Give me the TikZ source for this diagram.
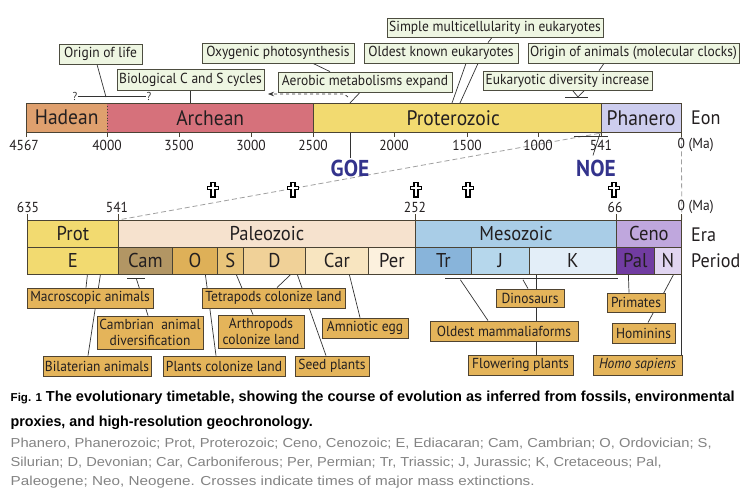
\documentclass[tikz,border=0pt]{standalone}
\usepackage{fontspec}
\usepackage{graphicx}
\setmainfont{PT Sans}[FakeStretch=0.93]
\newfontfamily\capfont{Liberation Sans}
\usetikzlibrary{arrows.meta,calc}
\pgfdeclarelayer{bg}
\pgfsetlayers{bg,main}
\definecolor{txt}{HTML}{231F20}
\definecolor{gfill}{HTML}{EEF6E2}
\definecolor{gline}{HTML}{4D4D40}
\definecolor{ofill}{HTML}{E4B45A}
\definecolor{oline}{HTML}{4F4331}
\definecolor{barline}{HTML}{4A4334}
\definecolor{lineC}{HTML}{333333}
\definecolor{hadc}{HTML}{DFA06E}
\definecolor{arcc}{HTML}{D6717B}
\definecolor{proc}{HTML}{F2DA70}
\definecolor{phac}{HTML}{CDCDEE}
\definecolor{palzc}{HTML}{F6E2CE}
\definecolor{camc}{HTML}{B29664}
\definecolor{ordc}{HTML}{DEB058}
\definecolor{silc}{HTML}{E8C47A}
\definecolor{devc}{HTML}{F0D198}
\definecolor{carc}{HTML}{F8E5C0}
\definecolor{perc}{HTML}{FCF1DE}
\definecolor{mesc}{HTML}{A9CDE7}
\definecolor{trc}{HTML}{88B4DA}
\definecolor{jurc}{HTML}{B6D7EC}
\definecolor{krc}{HTML}{E3EEF8}
\definecolor{cenc}{HTML}{BFA7DD}
\definecolor{palc}{HTML}{713CA1}
\definecolor{neoc}{HTML}{E1D5F1}
\definecolor{evc}{HTML}{33338C}
\definecolor{capgray}{HTML}{838383}
\definecolor{dashgray}{HTML}{A0A0A0}
\tikzset{
  gbox/.style={draw=gline, fill=gfill, line width=0.8pt, inner sep=0.5pt, text=txt, font=\fontsize{14.5}{16}\selectfont},
  obox/.style={draw=oline, fill=ofill, line width=0.8pt, inner sep=0.5pt, text=txt, align=center, font=\fontsize{14.5}{16}\selectfont},
  eonbar/.style={inner sep=0pt, text=txt, font=\fontsize{21}{22}\selectfont, anchor=north west, minimum height=29},
  cbar/.style={draw=barline, line width=0.8pt, inner sep=0pt, text=txt, font=\fontsize{20}{21}\selectfont, anchor=north west, minimum height=27},
  conn/.style={draw=lineC, line width=0.7pt},
  tlab/.style={inner sep=0pt, text=txt, font=\fontsize{14.5}{15}\selectfont},
  sidelab/.style={inner sep=0pt, text=txt, anchor=west, font=\fontsize{19.5}{21}\selectfont},
  evlab/.style={inner sep=1pt, text=evc, font=\fontsize{23}{24}\selectfont\bfseries},
  tickmark/.style={draw=barline, line width=0.8pt},
  extc/.pic={\draw[line width=1.1pt, fill=white, line join=miter] (-2,-7.5) -- (2,-7.5) -- (2,-3.8) -- (5.5,-3.8) -- (5.5,-0.3) -- (2,-0.3) -- (2,7) -- (-2,7) -- (-2,-0.3) -- (-5.5,-0.3) -- (-5.5,-3.8) -- (-2,-3.8) -- cycle;}
}
\begin{document}
\begin{tikzpicture}[x=1pt,y=-1pt]
\useasboundingbox (0,0) rectangle (750,498);
\begin{pgfonlayer}{bg}
\fill[white] (0,0) rectangle (750,498);
\end{pgfonlayer}

% ---------- Eon bar ----------
\node[eonbar, fill=hadc, minimum width=81] (hadean) at (26,103) {Hadean};
\node[eonbar, fill=arcc, minimum width=206] (archean) at (107,103) {Archean};
\node[eonbar, fill=proc, minimum width=288] (protero) at (313,103) {\hspace*{-8pt}Proterozoic};
\node[eonbar, fill=phac, minimum width=80] (phanero) at (601,103) {Phanero};
\draw[barline, line width=0.9pt] (hadean.north west) rectangle (phanero.south east);
\draw[barline, line width=0.9pt, dotted] (hadean.north east) -- (hadean.south east);
\draw[barline, line width=0.9pt] (archean.north east) -- (archean.south east);
\draw[barline, line width=0.9pt] (protero.north east) -- (protero.south east);
\node[sidelab] (eon) at (691,118) {Eon};

% top ticks and labels
\foreach \x in {26,107,179,251,313,394,467,538,601,681}
  \draw[tickmark] (\x,132) -- (\x,137);
\node[tlab] (t4567) at (24,145) {4567};
\node[tlab] (t4000) at (107,145) {4000};
\node[tlab] (t3500) at (179,145) {3500};
\node[tlab] (t3000) at (251,145) {3000};
\node[tlab] (t2500) at (313,145) {2500};
\node[tlab] (t2000) at (394,145) {2000};
\node[tlab] (t1500) at (467,145) {1500};
\node[tlab] (t1000) at (538,145) {1000};
\node[tlab] (t541a) at (601,145) {541};
\node[tlab, anchor=west] (t0a) at (677.5,145) {0 (Ma)};

\node[evlab] (goe) at (350,168) {GOE};
\node[evlab] (noe) at (596,168) {NOE};

% ---------- top boxes ----------
\node[gbox, minimum width=83, minimum height=20] (ool) at (100.5,54) {Origin of life};
\node[gbox, minimum width=147, minimum height=21] (bio) at (190.5,79.5) {Biological C and S cycles};
\node[gbox, minimum width=152, minimum height=20] (oxy) at (278,53) {Oxygenic photosynthesis};
\node[gbox, minimum width=174, minimum height=20] (aer) at (365,82) {Aerobic metabolisms expand};
\node[gbox, minimum width=216, minimum height=19] (smc) at (495,27.5) {Simple multicellularity in eukaryotes};
\node[gbox, minimum width=154, minimum height=20] (oke) at (441,53) {Oldest known eukaryotes};
\node[gbox, minimum width=211, minimum height=20] (ooa) at (633.5,53) {Origin of animals (molecular clocks)};
\node[gbox, minimum width=169, minimum height=19] (edi) at (567.5,80.5) {Eukaryotic diversity increase};

\node[inner sep=0pt, text=lineC, font=\fontsize{11.5}{12}\selectfont] (qa) at (75,96) {?};
\node[inner sep=0pt, text=lineC, font=\fontsize{11.5}{12}\selectfont] (qb) at (149,96) {?};
\coordinate (qmid) at (106,97);
\coordinate (ediv) at (578,97);
\coordinate (arS) at (348,97);

% ---------- lower bars ----------
\node[cbar, fill=proc, minimum width=91] (prot) at (27,220) {Prot};
\node[cbar, fill=palzc, minimum width=297] (paleo) at (118,220) {Paleozoic};
\node[cbar, fill=mesc, minimum width=201] (meso) at (415,220) {Mesozoic};
\node[cbar, fill=cenc, minimum width=65] (ceno) at (616,220) {Ceno};
\node[cbar, fill=proc, minimum width=91] (ebar) at (27,247) {E};
\node[cbar, fill=camc, minimum width=54] (cam) at (118,247) {Cam};
\node[cbar, fill=ordc, minimum width=45] (obar) at (172,247) {O};
\node[cbar, fill=silc, minimum width=26] (sbar) at (217,247) {S};
\node[cbar, fill=devc, minimum width=62] (dbar) at (243,247) {D};
\node[cbar, fill=carc, minimum width=63] (car) at (305,247) {Car};
\node[cbar, fill=perc, minimum width=47] (per) at (368,247) {Per};
\node[cbar, fill=trc, minimum width=56] (tr) at (415,247) {Tr};
\node[cbar, fill=jurc, minimum width=58] (jbar) at (471,247) {J};
\node[cbar, fill=krc, minimum width=87] (kbar) at (529,247) {K};
\node[cbar, fill=palc, minimum width=38] (pal) at (616,247) {Pal};
\node[cbar, fill=neoc, minimum width=27] (nbar) at (654,247) {N};
\node[sidelab] (era) at (691,235) {Era};
\node[sidelab] (period) at (691,261) {Period};

\foreach \x in {27,118,415,616,681}
  \draw[tickmark] (\x,214) -- (\x,220);
\node[tlab] (t635) at (28,207) {635};
\node[tlab] (t541b) at (117,207) {541};
\node[tlab] (t252) at (415,207) {252};
\node[tlab] (t66) at (615,207) {66};
\node[tlab, anchor=west] (t0b) at (677.5,207) {0 (Ma)};

% crosses
\foreach \x in {213,293,416,468,614}
  \pic at (\x,190) {extc};

% ---------- lower boxes ----------
\node[obox, minimum width=126, minimum height=20] (mac) at (90,298) {Macroscopic animals};
\node[obox, minimum width=106, minimum height=33] (cad) at (150,332.5) {Cambrian~ animal\\diversification};
\node[obox, minimum width=108, minimum height=20] (bil) at (97,366) {Bilaterian animals};
\node[obox, minimum width=143, minimum height=20] (tet) at (273.5,298) {Tetrapods colonize land};
\node[obox, minimum width=86, minimum height=33] (art) at (261,331.5) {Arthropods\\colonize land};
\node[obox, minimum width=122, minimum height=20] (plc) at (224,366) {Plants colonize land};
\node[obox, minimum width=74, minimum height=20] (sdp) at (332,366) {Seed plants};
\node[obox, minimum width=86, minimum height=20] (amn) at (365,328) {Amniotic egg};
\node[obox, minimum width=68, minimum height=18] (din) at (530,298) {Dinosaurs};
\node[obox, minimum width=148, minimum height=20] (mam) at (504,331) {Oldest mammaliaforms};
\node[obox, minimum width=105, minimum height=20] (flp) at (520.5,365) {Flowering plants};
\node[obox, minimum width=58, minimum height=19] (pri) at (636,302.5) {Primates};
\node[obox, minimum width=63, minimum height=20] (hom) at (643.5,333) {Hominins};
\node[obox, minimum width=89, minimum height=20] (hsa) at (637.5,365) {\itshape Homo sapiens};

\coordinate (camT) at ([xshift=-9,yshift=-4]cam.south);

% ---------- connectors (behind) ----------
\begin{pgfonlayer}{bg}
\draw[dashgray, line width=0.8pt, dash pattern=on 5pt off 3pt] ([xshift=-2,yshift=-1]phanero.south west) -- (paleo.north west);
\draw[dashgray, line width=0.8pt, dash pattern=on 5pt off 3pt] ([yshift=-3]phanero.south east) -- (ceno.north east);
% top
\draw[conn] (qa.east) -- (qb.west);
\draw[conn] ([xshift=-3.5]ool.south) -- (qmid);
\draw[conn] (bio.south) -- (bio.south |- archean.north);
\draw[conn] ([xshift=35]oxy.south) -- ([xshift=-35]aer.north);
\draw[conn] ([xshift=-5]aer.south) -- ([xshift=37]protero.north west);
\draw[conn, dashed, -{Stealth[length=6pt,width=4.5pt]}] (arS) -- ++(-4,-3) -- (268,94);
\draw[conn] ([xshift=-3]smc.south) -- ([xshift=47]oke.north);
\draw[conn] ([xshift=25]oke.south) -- ([xshift=139]protero.north west);
\draw[conn] ([xshift=37]oke.south) -- ([xshift=147]protero.north west);
\draw[conn] ([xshift=-29.5]ooa.south) -- ([xshift=31.5]edi.north);
\draw[conn] ([xshift=5]edi.south) -- (ediv);
\draw[conn] ([xshift=17]edi.south) -- (ediv);
\draw[conn] ([xshift=-13]ediv) -- ([xshift=10]ediv);
\draw[conn] ([xshift=37]protero.south west) -- (goe.north);
\draw[conn] ([xshift=-27,yshift=-4]phanero.south west) -- ([xshift=7,yshift=-4]phanero.south west);
\draw[conn] ([xshift=-1,yshift=-1]phanero.south west) -- ([xshift=-8,yshift=-23]phanero.south west);
% bottom
\draw[conn] ([xshift=27.5]ebar.south) -- ([xshift=-9]bil.north);
\draw[conn] ([xshift=14.5]ebar.south) -- ([xshift=-4]mac.north);
\draw[conn] ([xshift=-9]camT) -- ([xshift=9]camT);
\draw[conn] (camT) -- ([xshift=-2]cad.north);
\draw[conn] ([xshift=10.5]obar.south) -- ([xshift=-8]plc.north);
\draw[conn] ([xshift=6]sbar.south) -- ([xshift=-8]art.north);
\draw[conn] ([xshift=16]dbar.south) -- ([xshift=3.5]tet.north);
\draw[conn] ([xshift=23]dbar.south) -- ([xshift=-6]sdp.north);
\draw[conn] ([xshift=12.5]car.south) -- ([xshift=-5]amn.north);
\draw[conn] ([xshift=2,yshift=-4]tr.south) -- ([xshift=1,yshift=-4]kbar.south east);
\draw[conn] ([xshift=-6,yshift=-5]kbar.south west) -- ([xshift=-2]din.north);
\draw[conn] ([xshift=17,yshift=-5]tr.south) -- ([xshift=-16]mam.north);
\draw[conn] ([xshift=7]kbar.south west) -- ([xshift=15.5]flp.north);
\draw[conn] ([xshift=-7]pal.south) -- ([xshift=-7]pri.north);
\draw[conn] ([xshift=5.5]nbar.south) -- ([xshift=4.5]hom.north);
\draw[conn] ([xshift=-0.5]nbar.south east) -- ([xshift=-0.5]nbar.south east |- hsa.north);
\end{pgfonlayer}

% ---------- caption ----------
\node[anchor=base west, inner sep=0pt, text=black] (cap1) at (10.5,401) {\resizebox{724pt}{\height}{\capfont\fontsize{14.5}{16}\selectfont\bfseries{\fontsize{11.5}{13}\selectfont Fig. 1} The evolutionary timetable, showing the course of evolution as inferred from fossils, environmental}};
\node[anchor=base west, inner sep=0pt, text=black] (cap2) at (10.5,426) {\resizebox{302pt}{\height}{\capfont\fontsize{14.5}{16}\selectfont\bfseries proxies, and high-resolution geochronology.}};
\node[anchor=base west, inner sep=0pt, text=capgray] (cap3) at (10.5,447) {\resizebox{701pt}{\height}{\capfont\fontsize{13}{15}\selectfont Phanero, Phanerozoic; Prot, Proterozoic; Ceno, Cenozoic; E, Ediacaran; Cam, Cambrian; O, Ordovician; S,}};
\node[anchor=base west, inner sep=0pt, text=capgray] (cap4) at (10.5,466) {\resizebox{651pt}{\height}{\capfont\fontsize{13}{15}\selectfont Silurian; D, Devonian; Car, Carboniferous; Per, Permian; Tr, Triassic; J, Jurassic; K, Cretaceous; Pal,}};
\node[anchor=base west, inner sep=0pt, text=capgray] (cap5) at (10.5,485) {\resizebox{524pt}{\height}{\capfont\fontsize{13}{15}\selectfont Paleogene; Neo, Neogene. Crosses indicate times of major mass extinctions.}};
\end{tikzpicture}
\end{document}
